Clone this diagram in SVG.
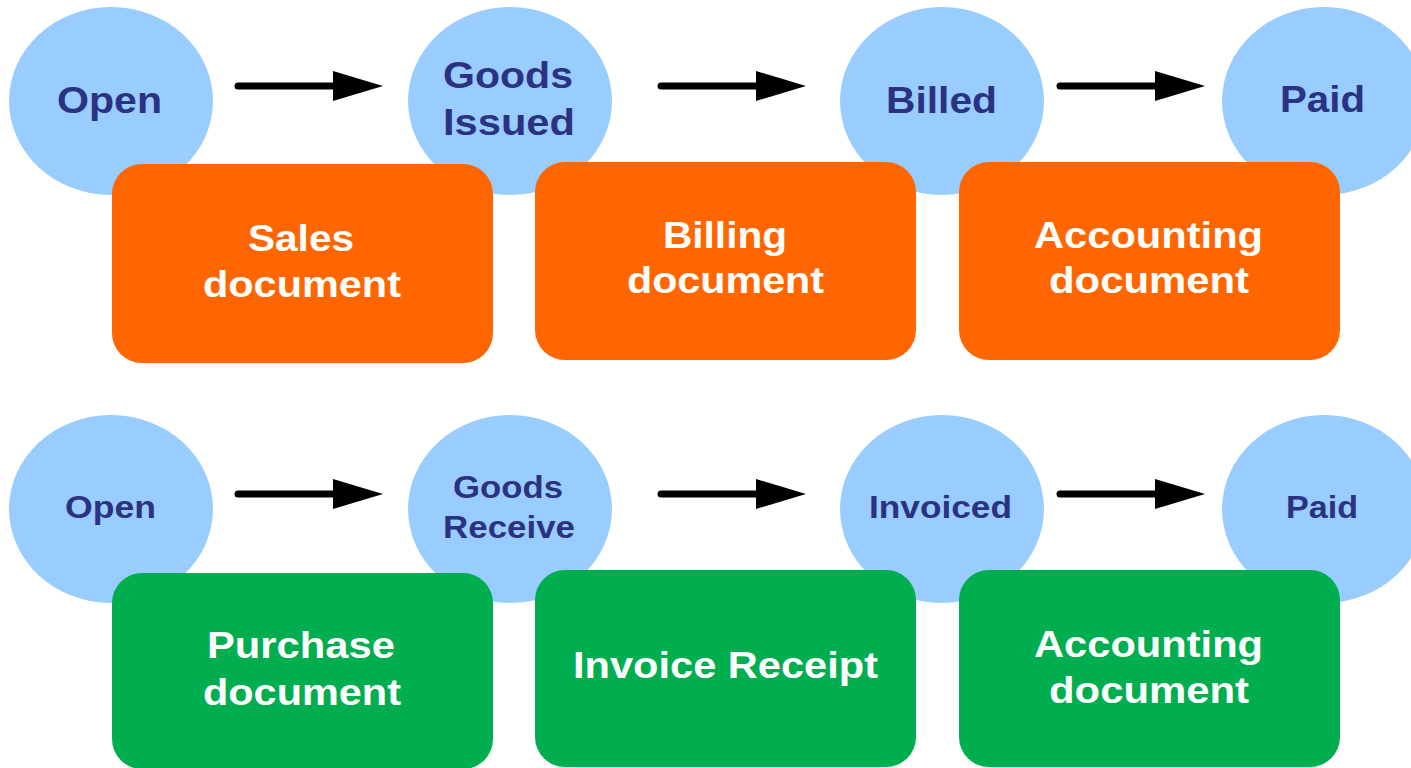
<svg xmlns="http://www.w3.org/2000/svg" width="1411" height="768" viewBox="0 0 1411 768">
<defs>
<style>
.st{fill:#99CCFF}
.sl{font-family:"Liberation Sans",Arial,sans-serif;font-weight:bold;fill:#2B3282;text-anchor:middle}
.s1{font-size:37px}
.s2{font-size:31px}
.bo{fill:#FF6600}
.bg{fill:#00AE4F}
.bl{font-family:"Liberation Sans",Arial,sans-serif;font-weight:bold;fill:#FFFFFF;font-size:36px;text-anchor:middle}
.ar{stroke:#000;stroke-width:7;stroke-linecap:round;fill:none}
</style>
<marker id="ah" markerUnits="userSpaceOnUse" markerWidth="50" markerHeight="30" refX="0" refY="15" orient="auto">
<path d="M0,0 L50,15 L0,30 Z" fill="#000"/>
</marker>
</defs>
<rect width="1411" height="768" fill="#FFFFFF"/>

<g id="s-open1"><ellipse class="st" cx="111" cy="101" rx="102" ry="94"/><text class="sl s1" x="109.5" y="113" textLength="105" lengthAdjust="spacingAndGlyphs">Open</text></g>
<g id="s-goods-issued"><ellipse class="st" cx="510" cy="101" rx="102" ry="94"/><text class="sl s1" x="508" y="88" textLength="130" lengthAdjust="spacingAndGlyphs">Goods</text><text class="sl s1" x="509" y="135" textLength="132" lengthAdjust="spacingAndGlyphs">Issued</text></g>
<g id="s-billed"><ellipse class="st" cx="942" cy="101" rx="102" ry="94"/><text class="sl s1" x="941.5" y="113" textLength="111" lengthAdjust="spacingAndGlyphs">Billed</text></g>
<g id="s-paid1"><ellipse class="st" cx="1324" cy="101" rx="102" ry="94"/><text class="sl s1" x="1322.5" y="112" textLength="85" lengthAdjust="spacingAndGlyphs">Paid</text></g>

<g id="s-open2"><ellipse class="st" cx="111" cy="509" rx="102" ry="94"/><text class="sl s2" x="110.5" y="518" textLength="91" lengthAdjust="spacingAndGlyphs">Open</text></g>
<g id="s-goods-receive"><ellipse class="st" cx="510" cy="509" rx="102" ry="94"/><text class="sl s2" x="508" y="498" textLength="110" lengthAdjust="spacingAndGlyphs">Goods</text><text class="sl s2" x="509" y="538" textLength="132" lengthAdjust="spacingAndGlyphs">Receive</text></g>
<g id="s-invoiced"><ellipse class="st" cx="942" cy="509" rx="102" ry="94"/><text class="sl s2" x="940.5" y="518" textLength="143" lengthAdjust="spacingAndGlyphs">Invoiced</text></g>
<g id="s-paid2"><ellipse class="st" cx="1324" cy="509" rx="102" ry="94"/><text class="sl s2" x="1322" y="518" textLength="72" lengthAdjust="spacingAndGlyphs">Paid</text></g>

<g id="connectors">
<line class="ar" x1="238" y1="86" x2="333" y2="86" marker-end="url(#ah)"/>
<line class="ar" x1="661" y1="86" x2="756" y2="86" marker-end="url(#ah)"/>
<line class="ar" x1="1060" y1="86" x2="1155" y2="86" marker-end="url(#ah)"/>
<line class="ar" x1="238" y1="494" x2="333" y2="494" marker-end="url(#ah)"/>
<line class="ar" x1="661" y1="494" x2="756" y2="494" marker-end="url(#ah)"/>
<line class="ar" x1="1060" y1="494" x2="1155" y2="494" marker-end="url(#ah)"/>
</g>

<g id="d-sales"><rect class="bo" x="112" y="164" width="381" height="199" rx="30"/><text class="bl" x="301" y="251" textLength="106" lengthAdjust="spacingAndGlyphs">Sales</text><text class="bl" x="302" y="297" textLength="198" lengthAdjust="spacingAndGlyphs">document</text></g>
<g id="d-billing"><rect class="bo" x="535" y="162" width="381" height="198" rx="30"/><text class="bl" x="725" y="248" textLength="124" lengthAdjust="spacingAndGlyphs">Billing</text><text class="bl" x="725.5" y="293" textLength="197" lengthAdjust="spacingAndGlyphs">document</text></g>
<g id="d-accounting1"><rect class="bo" x="959" y="162" width="381" height="198" rx="30"/><text class="bl" x="1148.5" y="248" textLength="229" lengthAdjust="spacingAndGlyphs">Accounting</text><text class="bl" x="1149" y="293" textLength="200" lengthAdjust="spacingAndGlyphs">document</text></g>

<g id="d-purchase"><rect class="bg" x="112" y="573" width="381" height="196" rx="30"/><text class="bl" x="301" y="658" textLength="188" lengthAdjust="spacingAndGlyphs">Purchase</text><text class="bl" x="302" y="705" textLength="198" lengthAdjust="spacingAndGlyphs">document</text></g>
<g id="d-invoice-receipt"><rect class="bg" x="535" y="570" width="381" height="197" rx="30"/><text class="bl" x="725.5" y="678" textLength="305" lengthAdjust="spacingAndGlyphs">Invoice Receipt</text></g>
<g id="d-accounting2"><rect class="bg" x="959" y="570" width="381" height="197" rx="30"/><text class="bl" x="1148.5" y="657" textLength="229" lengthAdjust="spacingAndGlyphs">Accounting</text><text class="bl" x="1149" y="703" textLength="200" lengthAdjust="spacingAndGlyphs">document</text></g>
</svg>
